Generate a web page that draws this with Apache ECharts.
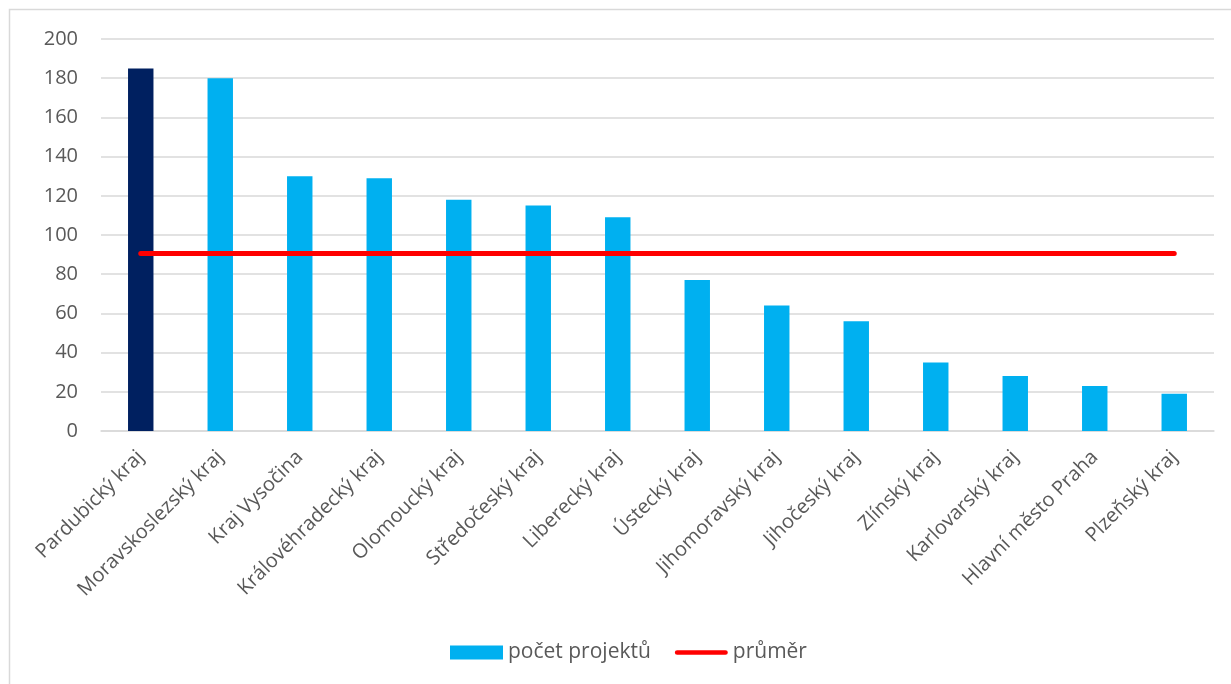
<!DOCTYPE html>
<html lang="cs">
<head>
    <meta charset="UTF-8">
    <title>počet projektů podle krajů</title>
    <style>
        html, body { margin: 0; padding: 0; background: #fff; }
        #chart { width: 1231px; height: 684px; }
    </style>
</head>
<body>
<div id="chart"></div>
<script src="https://cdn.jsdelivr.net/npm/echarts@6/dist/echarts.min.js"></script>
<script>
    // data
    var kraje = ['Pardubický kraj', 'Moravskoslezský kraj', 'Kraj Vysočina', 'Královéhradecký kraj',
        'Olomoucký kraj', 'Středočeský kraj', 'Liberecký kraj', 'Ústecký kraj', 'Jihomoravský kraj',
        'Jihočeský kraj', 'Zlínský kraj', 'Karlovarský kraj', 'Hlavní město Praha', 'Plzeňský kraj'];
    var pocetProjektu = [185, 180, 130, 129, 118, 115, 109, 77, 64, 56, 35, 28, 23, 19];
    var prumer = [90.6, 90.6, 90.6, 90.6, 90.6, 90.6, 90.6, 90.6, 90.6, 90.6, 90.6, 90.6, 90.6, 90.6];
    var zvyrazneny = 'Pardubický kraj';

    var txt = '#595959';
    var font = 'Open Sans';
    // thin rounded bar used as the legend icon of the average line
    var lineIcon = 'path://M2.5,0 H53.5 A2.5,2.5 0 0 1 53.5,5 H2.5 A2.5,2.5 0 0 1 2.5,0 Z';

    var myChart = echarts.init(document.getElementById('chart'));
    myChart.setOption({
        animation: false,
        textStyle: { fontFamily: font },
        graphic: [{
            type: 'rect',
            shape: { x: 9.5, y: 9.5, width: 1400, height: 800 },
            style: { fill: 'none', stroke: '#d9d9d9', lineWidth: 1.5 },
            silent: true
        }],
        grid: { left: 101, right: 17, top: 39, bottom: 253 },
        legend: {
            bottom: 16,
            left: 445,
            itemGap: 24,
            itemWidth: 53,
            itemHeight: 14,
            textStyle: { color: txt, fontSize: 21, fontFamily: font },
            data: [
                { name: 'počet projektů', icon: 'rect' },
                { name: 'průměr', icon: lineIcon }
            ]
        },
        xAxis: {
            type: 'category',
            data: kraje,
            axisTick: { show: false },
            axisLine: { lineStyle: { color: '#d9d9d9', width: 1.5 } },
            axisLabel: {
                rotate: 45,
                interval: 0,
                color: txt,
                fontSize: 20,
                margin: 23,
                fontFamily: font
            }
        },
        yAxis: {
            type: 'value',
            min: 0,
            max: 200,
            interval: 20,
            axisLine: { show: false },
            axisTick: { show: false },
            splitLine: { lineStyle: { color: '#d9d9d9', width: 1.5 } },
            axisLabel: { color: txt, fontSize: 20, margin: 23, fontFamily: font }
        },
        series: [
            {
                name: 'počet projektů',
                type: 'bar',
                barWidth: '32%',
                itemStyle: { color: '#00b0f0' },
                data: pocetProjektu.map(function (v, i) {
                    if (kraje[i] === zvyrazneny) {
                        return { value: v, itemStyle: { color: '#002060' } };
                    }
                    return v;
                })
            },
            {
                name: 'průměr',
                type: 'line',
                data: prumer,
                symbol: 'none',
                lineStyle: { color: '#ff0000', width: 5, cap: 'round' },
                itemStyle: { color: '#ff0000' },
                z: 5
            }
        ]
    });
</script>
</body>
</html>
